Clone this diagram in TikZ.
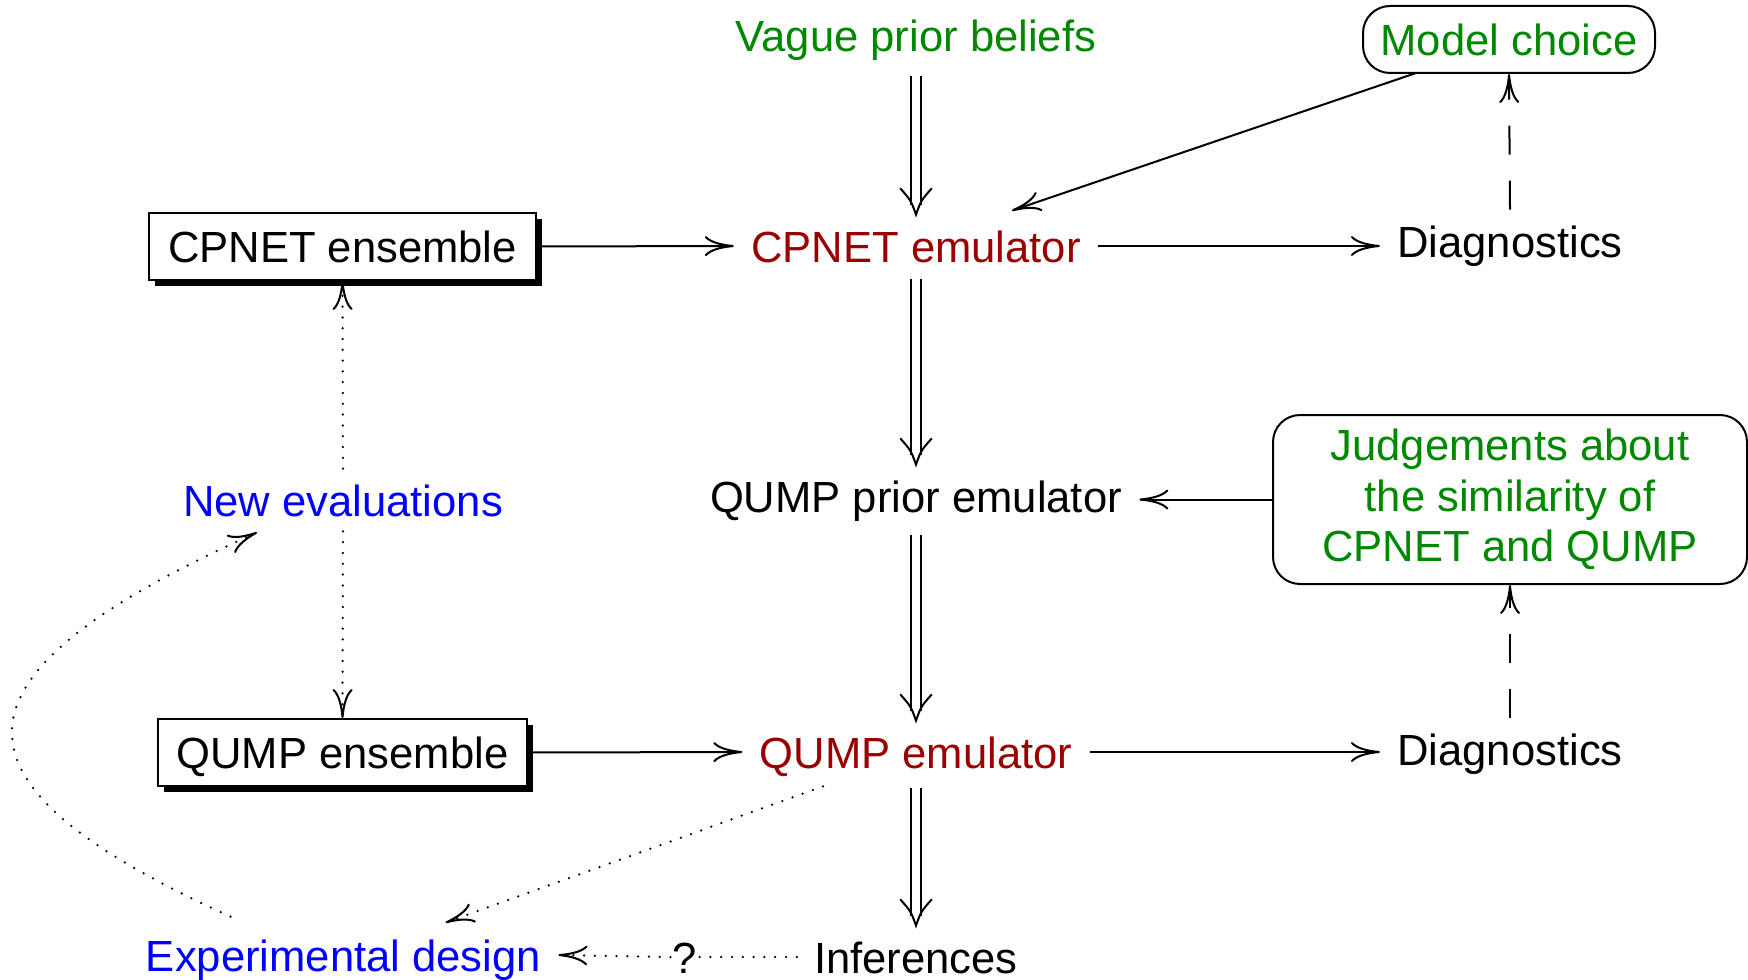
\documentclass[tikz,border=0pt]{standalone}
\usepackage{fontspec}
\setmainfont{Liberation Sans}
\usetikzlibrary{arrows.meta,shadows}
\definecolor{fgreen}{RGB}{0,136,0}
\definecolor{fred}{RGB}{155,0,0}
\definecolor{fblue}{RGB}{0,0,255}
\newcommand\vtipat[1]{\draw[vtip] ([shift={(-15.5,-26)}]#1) .. controls ([shift={(-5,-14)}]#1) .. (#1) .. controls ([shift={(5,-14)}]#1) .. ([shift={(15.5,-26)}]#1);}
\begin{document}
\begin{tikzpicture}[x=0.5pt,y=-0.5pt,
  every node/.style={font=\fontsize{21.8}{25.3}\selectfont},
  txt/.style={inner xsep=8.5pt, inner ysep=7.5pt, text height=16pt, text depth=0pt},
  ens/.style={draw, line width=1pt, fill=white, text height=16pt, text depth=0pt, inner xsep=0pt, inner ysep=0pt, minimum height=33.5pt, general shadow={fill=black, shadow xshift=3pt, shadow yshift=-3pt}},
  rbox/.style={draw, line width=1pt, rounded corners=13.5pt, text=fgreen},
  arr/.style={line width=1pt, -{To[length=14.5pt,width=10pt]}},
  dsh/.style={arr, dash pattern=on 14.5pt off 13pt},
  dotl/.style={line width=1.25pt, line cap=round, dash pattern=on 0pt off 5.4pt},
  dotarr/.style={dotl, -{To[length=14.5pt,width=10pt,line width=1pt]}},
  dbl/.style={line width=1pt, double, double distance=4.35pt},
  vtip/.style={line width=1pt, line cap=round}
]
\useasboundingbox (0,0) rectangle (1748,979);

\node[txt, text=fgreen] (vague) at (916,36) {Vague prior beliefs};
\node[rbox, minimum width=146pt, minimum height=33.5pt, text height=16pt, text depth=0pt, inner sep=0pt] (model) at (1509,39.5) {Model choice};
\node[ens, minimum width=193.5pt] (cpens) at (342.5,246.5) {CPNET ensemble};
\node[txt, text=fred] (cpemu) at (916,246) {CPNET emulator};
\node[txt] (diag1) at (1510,241) {Diagnostics};
\node[txt] (qprior) at (916,496) {QUMP prior emulator};
\node[rbox, align=center, minimum width=237pt, minimum height=84.5pt, inner sep=0pt] (judg) at (1510,499.5) {\raisebox{-2pt}{\parbox{230pt}{\centering Judgements about\\the similarity of\\CPNET and QUMP}}};
\node[txt, text=fblue] (neweval) at (343,500) {New evaluations};
\node[ens, minimum width=184.5pt] (qens) at (342.5,752.5) {QUMP ensemble};
\node[txt, text=fred] (qemu) at (916,752) {QUMP emulator};
\node[txt] (diag2) at (1510,749) {Diagnostics};
\node[txt, inner ysep=1.5pt, text=fblue] (expd) at (343.5,955) {Experimental design};
\node[txt, inner ysep=1.5pt] (inf) at (916,957) {Inferences};
\node[txt, inner ysep=1.5pt, inner xsep=1pt] (q) at (685,957) {?};
\coordinate (infin) at ([yshift=6pt]inf.north);
\coordinate (expin) at ([yshift=6pt]expd.north);

% double arrows down the middle
\draw[dbl, shorten <=4.5pt, shorten >=5pt] (vague.south) -- (cpemu.north);
\vtipat{cpemu.north}
\draw[dbl, shorten <=1pt, shorten >=5pt] (cpemu.south) -- (qprior.north);
\vtipat{qprior.north}
\draw[dbl, shorten <=4pt, shorten >=5pt] (qprior.south) -- (qemu.north);
\vtipat{qemu.north}
\draw[dbl, shorten <=2.5pt, shorten >=5pt] (qemu.south) -- (infin);
\vtipat{infin}

% solid arrows
\draw[arr] (cpens.east) -- (cpemu.west);
\draw[arr] (cpemu.east) -- (cpemu.east -| diag1.west);
\draw[arr] ([shift={(-93,-1)}]model.south) -- ([shift={(96,-4)}]cpemu.north);
\draw[arr] (judg.west) -- (judg.west -| qprior.east);
\draw[arr] (qens.east) -- (qemu.west);
\draw[arr] (qemu.east) -- (qemu.east -| diag2.west);

% dashed arrows
\draw[dsh] (diag1.north) -- (model.south);
\draw[dsh] (diag2.north) -- (judg.south);

% dotted arrows
\draw[dotarr] (neweval.north) -- (cpens.south);
\draw[dotarr] (neweval.south) -- (qens.north);
\draw[dotarr] ([shift={(-93,3)}]qemu.south) -- ([shift={(102,-1)}]expin);
\draw[dotl] (inf.west) -- (q.east);
\draw[dotarr] (q.west) -- (expd.east);
\draw[dotarr] ([shift={(-113,-7)}]expin) .. controls (-60,785) and (-70,679) .. ([shift={(-86,1)}]neweval.south);
\end{tikzpicture}
\end{document}
